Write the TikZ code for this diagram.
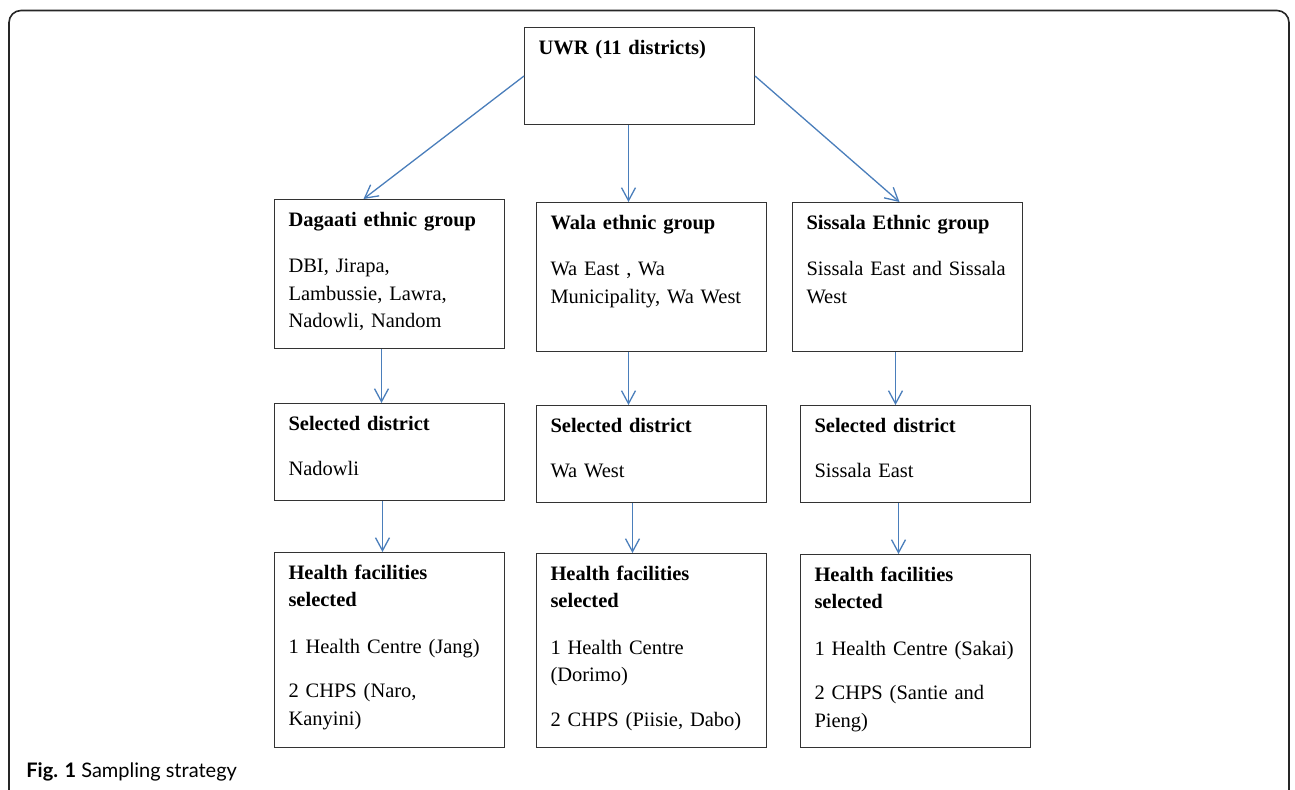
\documentclass[tikz,border=0pt]{standalone}
\usepackage{fontspec}
\setmainfont{Liberation Serif}
\newfontfamily\capfont{Lato}
\usetikzlibrary{arrows.meta}
\definecolor{arrblue}{HTML}{4A7EBB}
\tikzset{
  blk/.style={draw=black!80, line width=0.5pt, anchor=north west, text width=101pt, align=left,
    inner xsep=7pt, inner ysep=0pt, text height=13.3pt, font=\fontsize{10.25}{13.8}\selectfont},
  arr/.style={draw=arrblue, line width=0.65pt, -{Straight Barb[length=6.5pt,width=7pt]}}
}

\begin{document}
\begin{tikzpicture}[x=0.5pt,y=-0.5pt]
\useasboundingbox (0,0) rectangle (1295,789);
\draw[black!85, line width=0.8pt, rounded corners=6pt] (9,800) -- (9,10.5) -- (1289,10.5) -- (1289,800);
% top level
\node[blk, text depth=35.2pt] (uwr) at (524,27) {\textbf{UWR (11 districts)}};
% ethnic groups
\node[blk, text depth=61.2pt] (dag) at (274,199) {\textbf{Dagaati ethnic group}\\[9.5pt]
  DBI, Jirapa,\\ Lambussie, Lawra,\\ Nadowli, Nandom};
\node[blk, text depth=61.2pt] (wala) at (536,202) {\textbf{Wala ethnic group}\\[9.5pt]
  Wa East , Wa\\ Municipality, Wa West};
\node[blk, text depth=61.2pt] (sis) at (792,202) {\textbf{Sissala Ethnic group}\\[9.5pt]
  Sissala East and Sissala\\ West};
% selected districts
\node[blk, text depth=35.2pt] (sel1) at (274,403) {\textbf{Selected district}\\[9pt] Nadowli};
\node[blk, text depth=35.2pt] (sel2) at (536,405) {\textbf{Selected district}\\[9pt] Wa West};
\node[blk, text depth=35.2pt] (sel3) at (800,405) {\textbf{Selected district}\\[9pt] Sissala East};
% health facilities
\node[blk, text depth=84.2pt] (hf1) at (274,552) {\textbf{Health facilities}\\ \textbf{selected}\\[9.5pt]
  1 Health Centre (Jang)\\[8.5pt] 2 CHPS (Naro,\\ Kanyini)};
\node[blk, text depth=83.7pt] (hf2) at (536,553) {\textbf{Health facilities}\\ \textbf{selected}\\[9.5pt]
  1 Health Centre\\ (Dorimo)\\[8.5pt] 2 CHPS (Piisie, Dabo)};
\node[blk, text depth=83.2pt] (hf3) at (800,554) {\textbf{Health facilities}\\ \textbf{selected}\\[9.5pt]
  1 Health Centre (Sakai)\\[8.5pt] 2 CHPS (Santie and\\ Pieng)};
% arrows
\draw[arr] (uwr.west) -- ([xshift=-13pt]dag.north);
\draw[arr] ([xshift=-5.5pt]uwr.south) -- ([xshift=-5.5pt]uwr.south |- wala.north);
\draw[arr] (uwr.east) -- ([xshift=-4pt]sis.north);
\draw[arr] ([xshift=-4pt]dag.south) -- ([xshift=-4pt]dag.south |- sel1.north);
\draw[arr] ([xshift=-11.5pt]wala.south) -- ([xshift=-11.5pt]wala.south |- sel2.north);
\draw[arr] ([xshift=-6pt]sis.south) -- ([xshift=-6pt]sis.south |- sel3.north);
\draw[arr] ([xshift=-3.5pt]sel1.south) -- ([xshift=-3.5pt]sel1.south |- hf1.north);
\draw[arr] ([xshift=-9.5pt]sel2.south) -- ([xshift=-9.5pt]sel2.south |- hf2.north);
\draw[arr] ([xshift=-8.5pt]sel3.south) -- ([xshift=-8.5pt]sel3.south |- hf3.north);
% caption
\node[anchor=base west, inner sep=0pt, font=\capfont\fontsize{10}{12}\selectfont] (cap) at (26,777)
  {\textbf{Fig. 1} Sampling strategy};
\end{tikzpicture}
\end{document}
